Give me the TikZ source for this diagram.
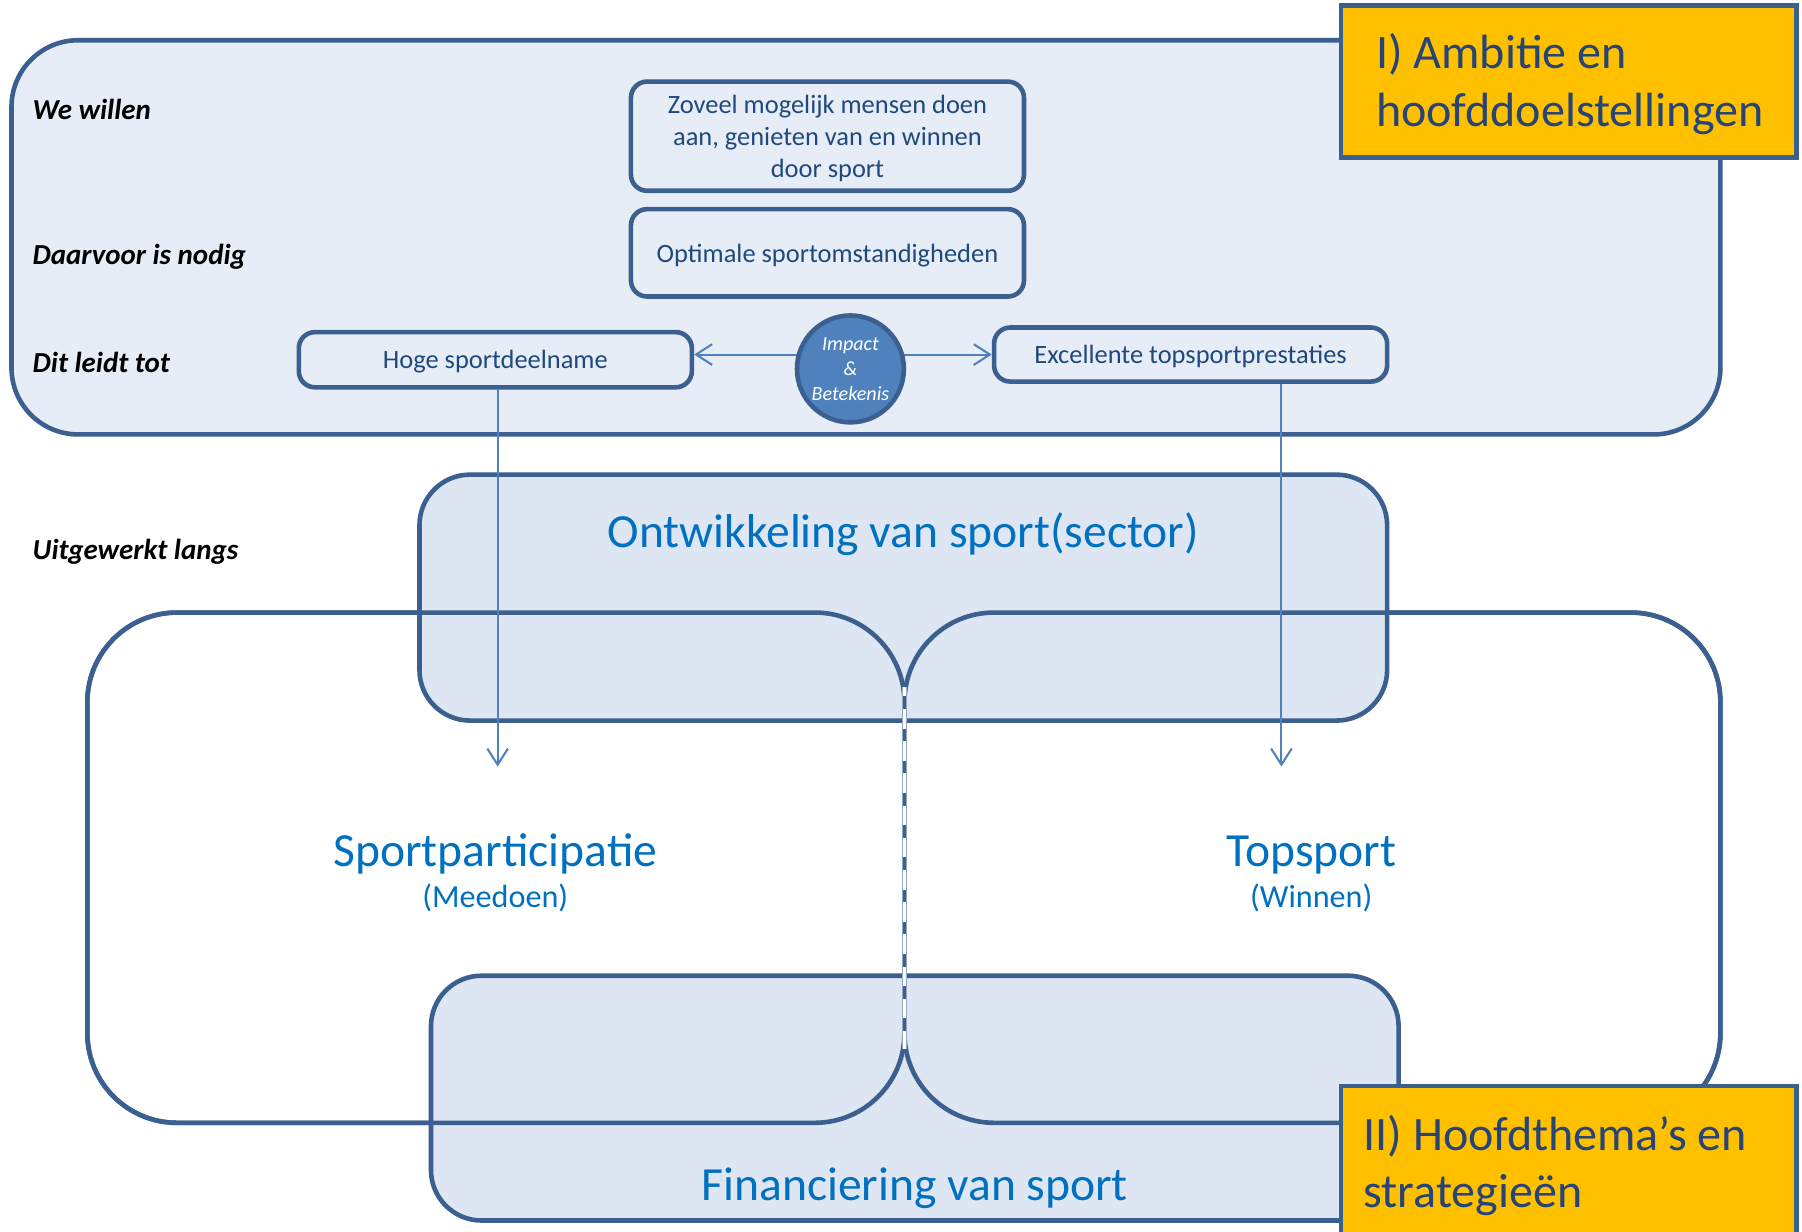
\documentclass[tikz,border=0pt]{standalone}
\usepackage{fontspec}
\setmainfont{Carlito}
\usetikzlibrary{arrows.meta}
\definecolor{bord}{RGB}{59,95,143}
\definecolor{topfill}{RGB}{231,237,246}
\definecolor{midfill}{RGB}{221,230,242}
\definecolor{circfill}{RGB}{79,129,189}
\definecolor{boxtext}{RGB}{31,73,125}
\definecolor{bigtext}{RGB}{0,112,192}
\definecolor{gold}{RGB}{255,192,0}
\definecolor{goldtext}{RGB}{38,68,118}
\begin{document}
\begin{tikzpicture}[x=0.5pt,y=-0.5pt,
  bigframe/.style={draw=bord, line width=2pt, inner sep=0pt},
  smallbox/.style={draw=bord, line width=2pt, rounded corners=7pt, fill=topfill, inner sep=0pt,
     text=boxtext, align=center, text depth=0pt, font=\fontsize{11.5}{14}\selectfont},
  rowlabel/.style={anchor=base west, inner sep=0pt, font=\fontsize{12.6}{15}\selectfont\bfseries\itshape},
  bigt/.style={anchor=base, inner sep=0pt, text=bigtext, font=\fontsize{20.7}{25}\selectfont},
  subt/.style={anchor=base, inner sep=0pt, text=bigtext, font=\fontsize{14}{17}\selectfont},
  goldbox/.style={draw=bord, line width=2pt, fill=gold, inner sep=0pt},
  goldt/.style={anchor=base west, inner sep=0pt, text=goldtext, font=\fontsize{20.9}{25}\selectfont},
  link/.style={draw=circfill, line width=0.9pt},
  tip/.tip={Straight Barb[length=7pt,width=9pt,line width=0.9pt]}
]
\useasboundingbox (0,0) rectangle (1568,1072);
\fill[white] (0,0) rectangle (1568,1072);

% ---------- part I ----------
\node[bigframe, fill=topfill, rounded corners=29pt, minimum width=743.5pt, minimum height=171.5pt] (amb) at (753.5,206.5) {};
\node[goldbox, minimum width=198pt, minimum height=66pt] (gold1) at (1365,71) {};
\node[goldt] (g1a) at (1197,60) {I) Ambitie en};
\node[goldt] (g1b) at (1197,110) {hoofddoelstellingen};

\node[rowlabel] (l1) at (28,104) {We willen};
\node[rowlabel] (l2) at (28,230) {Daarvoor is nodig};
\node[rowlabel] (l3) at (28,324) {Dit leidt tot};
\node[rowlabel] (l4) at (28,487) {Uitgewerkt langs};

\node[smallbox, minimum width=171pt, minimum height=47.5pt] (zov) at (720,118.5)
  {Zoveel mogelijk mensen doen\\aan, genieten van en winnen\\door sport};
\node[smallbox, minimum width=171pt, minimum height=38pt] (opt) at (720,220) {Optimale sportomstandigheden};
\node[smallbox, minimum width=171pt, minimum height=24pt] (hoge) at (431,313) {Hoge sportdeelname};
\node[smallbox, minimum width=171pt, minimum height=23.5pt] (exc) at (1036,308.5) {Excellente topsportprestaties};

\draw[link, tip-tip] (hoge.east |- exc.west) -- (exc.west);
\node[circle, draw=bord, line width=2pt, fill=circfill, minimum size=46.5pt, inner sep=0pt,
  text=white, align=center, font=\fontsize{8.75}{11}\selectfont\itshape] (imp) at (740,321) {Impact\\\&\\Betekenis};

% ---------- part II ----------
\node[bigframe, fill=white, rounded corners=39pt, minimum width=355.5pt, minimum height=222pt] (spbox) at (431.5,755) {};
\node[bigframe, fill=white, rounded corners=39pt, minimum width=355pt, minimum height=222pt] (tpbox) at (1142,755) {};

\node[bigframe, fill=midfill, rounded corners=22pt, minimum width=421pt, minimum height=107pt] (ontbox) at (786,520) {};
\node[bigframe, fill=midfill, rounded corners=22pt, minimum width=421pt, minimum height=106.5pt] (finbox) at (796,955.5) {};

\node[bigframe, rounded corners=39pt, minimum width=355.5pt, minimum height=222pt] (spline) at (431.5,755) {};
\node[bigframe, rounded corners=39pt, minimum width=355pt, minimum height=222pt] (tpline) at (1142,755) {};

% seam between the two theme boxes
\coordinate (seamtop) at (787,598);
\coordinate (seambot) at (787,913);
\draw[line width=2.2pt, draw=bord!55] (seamtop) -- (seambot);
\draw[line width=1.7pt, white] (seamtop) -- (seambot);
\draw[line width=1.7pt, bord, dash pattern=on 5.5pt off 8.5pt, dash phase=-4pt] (seamtop) -- (seambot);

% vertical arrows
\coordinate (spend) at (433,667);
\coordinate (tpend) at (1115,667);
\draw[link, -tip] (hoge.south -| spend) -- (spend);
\draw[link, -tip] (exc.south -| tpend) -- (tpend);

\node[bigt] (ont) at (786,476) {Ontwikkeling van sport(sector)};
\node[bigt] (spt) at (431,754) {Sportparticipatie};
\node[subt] (spm) at (431,790) {(Meedoen)};
\node[bigt] (tpt) at (1141,754) {Topsport};
\node[subt] (tpw) at (1141,790) {(Winnen)};
\node[bigt] (fin) at (796,1045) {Financiering van sport};

\node[goldbox, minimum width=198pt, minimum height=66pt] (gold2) at (1365,1011) {};
\node[goldt] (g2a) at (1186,1001) {II) Hoofdthema’s en};
\node[goldt] (g2b) at (1186,1051) {strategieën};
\end{tikzpicture}
\end{document}
